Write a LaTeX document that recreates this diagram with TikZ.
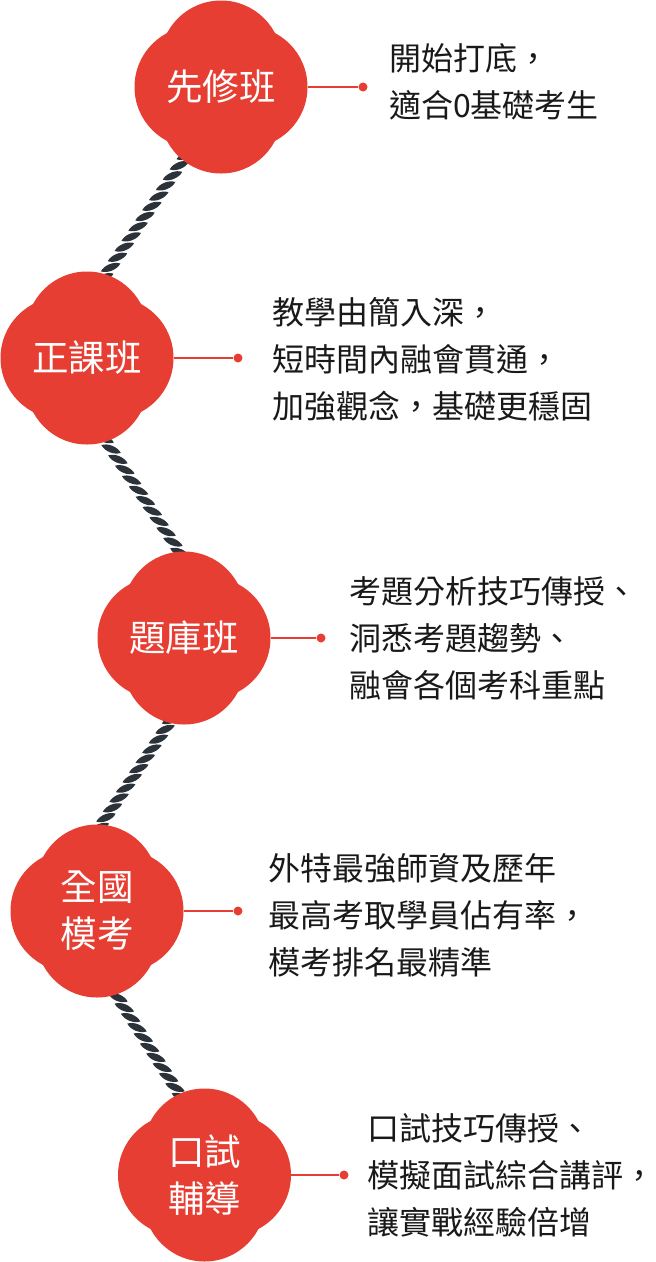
\documentclass[tikz,border=0pt]{standalone}
\usepackage{fontspec}
\newfontfamily\cjk{Noto Sans CJK TC}
\usetikzlibrary{calc}
\definecolor{flowerred}{RGB}{231,62,51}
\definecolor{ropegray}{RGB}{44,50,57}
\definecolor{txt}{RGB}{25,25,25}
\tikzset{
  ropeseg/.pic={\fill[ropegray] (-10.5pt,0pt) .. controls (-5pt,4.6pt) and (5pt,4.6pt) .. (10.5pt,0pt) .. controls (5pt,-4.6pt) and (-5pt,-4.6pt) .. cycle;},
  petal/.style={fill=flowerred},
  title/.style={circle, minimum size=173pt, inner sep=0pt, text=white, font=\cjk\fontsize{36.5pt}{47pt}\selectfont, align=center},
  desc/.style={anchor=west, inner sep=0pt, text=txt, font=\cjk\fontsize{32pt}{47pt}\selectfont, align=left},
  dot/.style={circle, fill=flowerred, minimum size=9pt, inner sep=0pt},
  link/.style={draw=flowerred, line width=2pt},
}
\newcommand\ropeline[4]{%
  \foreach \i in {0,...,#4} {
    \pgfmathsetmacro\rpos{\i/#4}
    \pic[rotate=#3] at ($(#1)!\rpos!(#2)$) {ropeseg};
  }%
}
\begin{document}
\begin{tikzpicture}[x=1pt,y=-1pt]
\useasboundingbox (0,0) rectangle (656,1262);
% flower centres
\coordinate (c1) at (221,87);
\coordinate (c2) at (87,358);
\coordinate (c3) at (184,638);
\coordinate (c4) at (97,911);
\coordinate (c5) at (204.5,1175);
% rope end points
\coordinate (r1a) at (200,135);
\coordinate (r1b) at (90,298);
\coordinate (r2a) at (90.4,418);
\coordinate (r2b) at (193.6,573);
\coordinate (r3a) at (184.7,700);
\coordinate (r3b) at (86.3,847);
\coordinate (r4a) at (98.9,967.7);
\coordinate (r4b) at (194.1,1117.3);
% ropes
\ropeline{r1a}{r1b}{22}{16}
\ropeline{r2a}{r2b}{-22}{15}
\ropeline{r3a}{r3b}{22}{15}
\ropeline{r4a}{r4b}{-22}{15}
% flowers
\foreach \c in {c1,c2,c3,c4,c5} {
  \fill[petal] ($(\c)+(25.5,0)$) circle[radius=61pt]
               ($(\c)+(-25.5,0)$) circle[radius=61pt]
               ($(\c)+(0,25.5)$) circle[radius=61pt]
               ($(\c)+(0,-25.5)$) circle[radius=61pt];
}
% titles
\node[title] (f1) at (c1) {先修班};
\node[title] (f2) at (c2) {正課班};
\node[title] (f3) at (c3) {題庫班};
\node[title] (f4) at (c4) {全國\\模考};
\node[title] (f5) at (c5) {口試\\輔導};
% dots
\node[dot] (d1) at (363,87) {};
\node[dot] (d2) at (238,358) {};
\node[dot] (d3) at (321,638) {};
\node[dot] (d4) at (238,911) {};
\node[dot] (d5) at (344,1175) {};
% connectors
\draw[link] (f1.east) -- (d1);
\draw[link] (f2.east) -- (d2);
\draw[link] (f3.east) -- (d3);
\draw[link] (f4.east) -- (d4);
\draw[link] (f5.east) -- (d5);
% descriptions
\node[desc] (t1) at (389,82) {開始打底，\\適合0基礎考生};
\node[desc] (t2) at (272,359) {教學由簡入深，\\短時間內融會貫通，\\加強觀念，基礎更穩固};
\node[desc] (t3) at (349,638) {考題分析技巧傳授、\\洞悉考題趨勢、\\融會各個考科重點};
\node[desc] (t4) at (268,915) {外特最強師資及歷年\\最高考取學員佔有率，\\模考排名最精準};
\node[desc] (t5) at (367,1175) {口試技巧傳授、\\模擬面試綜合講評，\\讓實戰經驗倍增};
\end{tikzpicture}
\end{document}
